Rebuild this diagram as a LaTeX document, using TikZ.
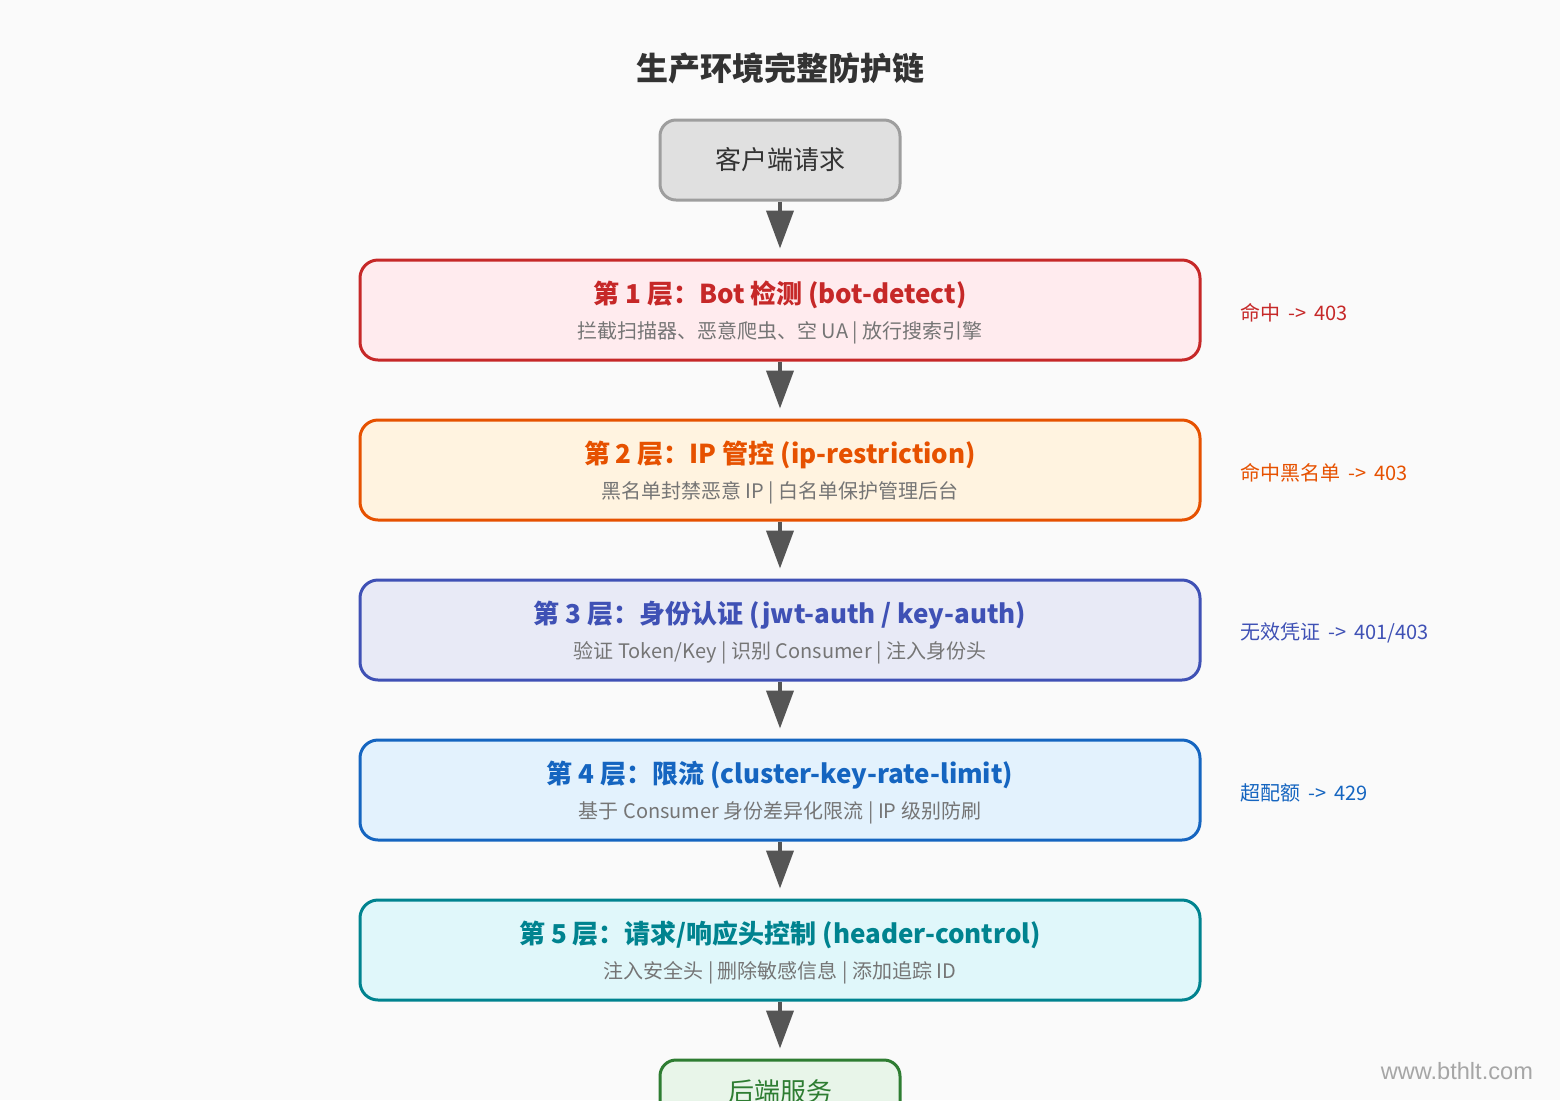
\documentclass[tikz,border=0pt]{standalone}
\usepackage{fontspec}
\setmainfont{Noto Sans CJK SC}
\newfontfamily\wmfont{Liberation Sans}
\usetikzlibrary{arrows.meta}
\definecolor{bg}{HTML}{FAFAFA}
\definecolor{titlec}{HTML}{333333}
\definecolor{subc}{HTML}{757575}
\definecolor{arrc}{HTML}{555555}
\definecolor{cliB}{HTML}{9E9E9E}\definecolor{cliF}{HTML}{E0E0E0}
\definecolor{l1B}{HTML}{C62828}\definecolor{l1F}{HTML}{FFEBEE}
\definecolor{l2B}{HTML}{E65100}\definecolor{l2F}{HTML}{FFF3E0}
\definecolor{l3B}{HTML}{3F51B5}\definecolor{l3F}{HTML}{E8EAF6}
\definecolor{l4B}{HTML}{1565C0}\definecolor{l4F}{HTML}{E3F2FD}
\definecolor{l5B}{HTML}{00838F}\definecolor{l5F}{HTML}{E0F7FA}
\definecolor{beB}{HTML}{2E7D32}\definecolor{beF}{HTML}{E8F5E9}
\tikzset{
  smallbox/.style={draw=#1B, fill=#1F, line width=1.5pt, rounded corners=8pt,
    minimum width=120pt, minimum height=40pt, inner sep=0pt},
  layerbox/.style={draw=#1B, fill=#1F, line width=1.5pt, rounded corners=9pt,
    minimum width=420pt, minimum height=50pt, inner sep=0pt},
  headtxt/.style={text=#1B, font=\bfseries\fontsize{13}{15}\selectfont, inner sep=0pt},
  subtxt/.style={text=subc, font=\fontsize{10}{12}\selectfont, inner sep=0pt},
  sidetxt/.style={text=#1B, font=\fontsize{10}{12}\selectfont, anchor=west, inner sep=0pt},
  flow/.style={draw=arrc, line width=2pt, -{Triangle[length=19pt,width=13.5pt]}, shorten >=5pt},
}
\begin{document}
\begin{tikzpicture}[x=0.5pt,y=-0.5pt]
\fill[bg] (0,0) rectangle (1560,1100);
\useasboundingbox (0,0) rectangle (1560,1100);
\clip (0,0) rectangle (1560,1100);

\node[text=titlec, font=\bfseries\fontsize{16}{18}\selectfont] (title) at (780,68) {生产环境完整防护链};

\node[smallbox=cli] (client) at (780,160) {};
\node[text=titlec, font=\fontsize{13}{15}\selectfont] (clientt) at (780,160) {客户端请求};

\node[layerbox=l1] (l1) at (780,310) {};
\node[headtxt=l1] (l1h) at (780,295) {第 1 层：Bot 检测 (bot-detect)};
\node[subtxt] (l1s) at (780,333) {拦截扫描器、恶意爬虫、空 UA | 放行搜索引擎};
\node[sidetxt=l1] (l1r) at (1240,313) {命中 \,->\, 403};

\node[layerbox=l2] (l2) at (780,470) {};
\node[headtxt=l2] (l2h) at (780,455) {第 2 层：IP 管控 (ip-restriction)};
\node[subtxt] (l2s) at (780,493) {黑名单封禁恶意 IP | 白名单保护管理后台};
\node[sidetxt=l2] (l2r) at (1240,473) {命中黑名单 \,->\, 403};

\node[layerbox=l3] (l3) at (780,630) {};
\node[headtxt=l3] (l3h) at (780,615) {第 3 层：身份认证 (jwt-auth / key-auth)};
\node[subtxt] (l3s) at (780,653) {验证 Token/Key | 识别 Consumer | 注入身份头};
\node[sidetxt=l3] (l3r) at (1240,633) {无效凭证 \,->\, 401/403};

\node[layerbox=l4] (l4) at (780,790) {};
\node[headtxt=l4] (l4h) at (780,775) {第 4 层：限流 (cluster-key-rate-limit)};
\node[subtxt] (l4s) at (780,813) {基于 Consumer 身份差异化限流 | IP 级别防刷};
\node[sidetxt=l4] (l4r) at (1240,793) {超配额 \,->\, 429};

\node[layerbox=l5] (l5) at (780,950) {};
\node[headtxt=l5] (l5h) at (780,935) {第 5 层：请求/响应头控制 (header-control)};
\node[subtxt] (l5s) at (780,973) {注入安全头 | 删除敏感信息 | 添加追踪 ID};

\node[smallbox=be] (backend) at (780,1100) {};
\node[text=beB, font=\fontsize{13}{15}\selectfont] (backendt) at (780,1092) {后端服务};

\draw[flow] (client.south) -- (l1.north);
\draw[flow] (l1.south) -- (l2.north);
\draw[flow] (l2.south) -- (l3.north);
\draw[flow] (l3.south) -- (l4.north);
\draw[flow] (l4.south) -- (l5.north);
\draw[flow] (l5.south) -- (backend.north);

\node[text=black!35, font=\wmfont\fontsize{11.8}{13}\selectfont, anchor=east] (wm) at (1540,1071) {www.bthlt.com};
\end{tikzpicture}
\end{document}
